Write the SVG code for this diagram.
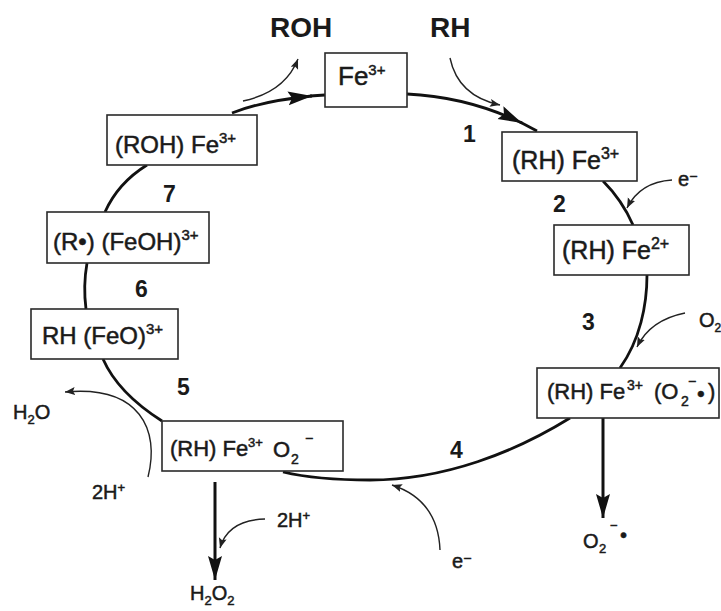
<svg xmlns="http://www.w3.org/2000/svg" width="721" height="611" viewBox="0 0 721 611">
<defs>
<style>
text{font-family:"Liberation Sans",Arial,Helvetica,sans-serif;fill:#1a1a1a}
.t{stroke:#1a1a1a;stroke-width:0.5}
.box{fill:#fff;stroke:#2a2a2a;stroke-width:1.6}
.bold{font-weight:bold}
.cyc{fill:none;stroke:#111;stroke-width:2.8}
.thin{fill:none;stroke:#222;stroke-width:1.4}
.vert{fill:none;stroke:#111;stroke-width:3}
</style>
<marker id="headL" markerUnits="userSpaceOnUse" markerWidth="26" markerHeight="16" refX="24" refY="7" orient="auto">
<path d="M0,0 L24,7 L0,14 L4,7 z" fill="#111"/>
</marker>
<marker id="headS" markerUnits="userSpaceOnUse" markerWidth="11" markerHeight="9" refX="10" refY="4" orient="auto">
<path d="M0,0 L10,4 L0,8 L2,4 z" fill="#222"/>
</marker>
</defs>
<rect width="721" height="611" fill="#fff"/>

<g id="connectors">
<path class="cyc" d="M407,94 Q468,97 522,123" marker-end="url(#headL)"/>
<path class="cyc" d="M520,122 L537,131"/>
<path class="cyc" d="M603,181 Q622,200 633,225"/>
<path class="cyc" d="M647,275 C647,305 640,340 620,368"/>
<path class="cyc" d="M570,418 C515,452 445,480 370,480 C330,480 300,476 283,472"/>
<path class="cyc" d="M103,359 Q118,393 162,421"/>
<path class="cyc" d="M87,263 Q83,286 86,309"/>
<path class="cyc" d="M147,165 Q118,183 105,212"/>
<path class="cyc" d="M232,113 Q262,101 312,96" marker-end="url(#headL)"/>
<path class="cyc" d="M310,96 L325,95"/>
<path class="vert" d="M215,482 L215,580" marker-end="url(#headL)"/>
<path class="vert" d="M603,418 L603,518" marker-end="url(#headL)"/>
<path class="thin" d="M243,101 Q285,92 298,59" marker-end="url(#headS)"/>
<path class="thin" d="M450,58 Q458,96 500,105" marker-end="url(#headS)"/>
<path class="thin" d="M672,180 Q640,182 627,208" marker-end="url(#headS)"/>
<path class="thin" d="M685,313 Q650,320 637,347" marker-end="url(#headS)"/>
<path class="thin" d="M440,550 Q438,500 392,485" marker-end="url(#headS)"/>
<path class="thin" d="M148,477 C160,430 140,385 65,392" marker-end="url(#headS)"/>
<path class="thin" d="M265,519 Q228,520 220,548" marker-end="url(#headS)"/>
</g>

<g id="n0">
<rect class="box" x="325" y="53" width="82" height="54"/>
<text class="t" x="338" y="85" font-size="26">Fe<tspan font-size="15" dy="-10">3+</tspan></text>
</g>
<g id="n1">
<rect class="box" x="502" y="132" width="135" height="49"/>
<text class="t" x="512" y="169" font-size="25">(RH) Fe<tspan font-size="16" dy="-10">3+</tspan></text>
</g>
<g id="n2">
<rect class="box" x="554" y="225" width="135" height="50"/>
<text class="t" x="562" y="259" font-size="25">(RH) Fe<tspan font-size="16" dy="-10">2+</tspan></text>
</g>
<g id="n3">
<rect class="box" x="537" y="368" width="182" height="50"/>
<text class="t" font-size="22"><tspan x="547" y="399">(RH) Fe</tspan><tspan x="627" y="390" font-size="14">3+</tspan><tspan x="654" y="399">(O</tspan><tspan x="681" y="406" font-size="14">2</tspan><tspan x="688" y="386" font-size="14">−</tspan><tspan x="697" y="401">•</tspan><tspan x="708" y="399">)</tspan></text>
</g>
<g id="n4">
<rect class="box" x="162" y="421" width="181" height="50"/>
<text class="t" font-size="22"><tspan x="170" y="456">(RH) Fe</tspan><tspan x="248" y="447" font-size="13">3+</tspan><tspan x="273" y="457">O</tspan><tspan x="291" y="464" font-size="14">2</tspan><tspan x="305" y="443" font-size="14">−</tspan></text>
</g>
<g id="n5">
<rect class="box" x="31" y="309" width="147" height="50"/>
<text class="t" x="42" y="344" font-size="24">RH (FeO)<tspan font-size="15" dy="-10">3+</tspan></text>
</g>
<g id="n6">
<rect class="box" x="47" y="212" width="162" height="51"/>
<text class="t" x="53" y="250" font-size="24">(R•) (FeOH)<tspan font-size="15" dy="-10">3+</tspan></text>
</g>
<g id="n7">
<rect class="box" x="107" y="115" width="150" height="50"/>
<text class="t" x="115" y="153" font-size="24">(ROH) Fe<tspan font-size="15" dy="-10">3+</tspan></text>
</g>

<g id="labels">
<text class="bold" x="270" y="37" font-size="28">ROH</text>
<text class="bold" x="430" y="37" font-size="28">RH</text>
<text class="bold" x="463" y="142" font-size="23">1</text>
<text class="bold" x="553" y="212" font-size="23">2</text>
<text class="bold" x="582" y="330" font-size="23">3</text>
<text class="bold" x="450" y="458" font-size="23">4</text>
<text class="bold" x="177" y="395" font-size="23">5</text>
<text class="bold" x="135" y="297" font-size="23">6</text>
<text class="bold" x="163" y="202" font-size="23">7</text>
<text class="t" x="678" y="186" font-size="20">e<tspan font-size="14" dy="-5">−</tspan></text>
<text class="t" x="452" y="568" font-size="20">e<tspan font-size="14" dy="-5">−</tspan></text>
<text class="t" x="699" y="327" font-size="20">O<tspan font-size="12" dy="5">2</tspan></text>
<text class="t" font-size="20"><tspan x="583" y="548">O</tspan><tspan x="599" y="553" font-size="13">2</tspan><tspan x="610" y="530" font-size="13">−</tspan><tspan x="620" y="542">•</tspan></text>
<text class="t" x="13" y="419" font-size="20">H<tspan font-size="13" dy="5">2</tspan><tspan dy="-5">O</tspan></text>
<text class="t" x="92" y="499" font-size="20">2H<tspan font-size="13" dy="-7">+</tspan></text>
<text class="t" x="277" y="527" font-size="20">2H<tspan font-size="13" dy="-7">+</tspan></text>
<text class="t" x="190" y="600" font-size="20">H<tspan font-size="13" dy="5">2</tspan><tspan dy="-5">O</tspan><tspan font-size="13" dy="5">2</tspan></text>
</g>
</svg>
